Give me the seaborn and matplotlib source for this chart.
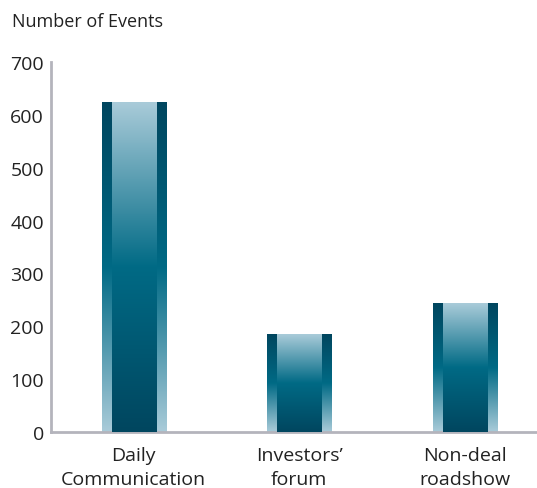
import numpy as np
import pandas as pd
import matplotlib
matplotlib.use("Agg")
import matplotlib.pyplot as plt
from matplotlib.colors import LinearSegmentedColormap
import seaborn as sns

categories = ["Daily\nCommunication", "Investors’\nforum", "Non-deal\nroadshow"]
events = [623, 184, 243]
y_ticks = [0, 100, 200, 300, 400, 500, 600, 700]

df = pd.DataFrame({"category": categories, "events": events})

sns.set_style("white")
plt.rcParams["font.family"] = ["Open Sans", "DejaVu Sans"]

fig = plt.figure(figsize=(5.37, 4.89), dpi=100)
ax = fig.add_axes([51/537, 56/489, (537-51)/537, (433-63)/489])

sns.barplot(data=df, x="category", y="events", ax=ax, width=0.387,
            color="#006d87", saturation=1, errorbar=None, zorder=1)

light, mid, dark = "#a9cbd9", "#006a85", "#00465f"
cmap_inner = LinearSegmentedColormap.from_list("inner", [dark, mid, light])   # bottom->top
cmap_outer = LinearSegmentedColormap.from_list("outer", [light, mid, dark])
grad = np.linspace(0, 1, 256).reshape(-1, 1)

inner_frac = 0.266 / 0.387
for p in ax.patches:
    x0, w, h = p.get_x(), p.get_width(), p.get_height()
    ax.imshow(grad, cmap=cmap_outer, origin="lower", aspect="auto",
              extent=(x0, x0 + w, 0, h), zorder=2, interpolation="bicubic")
    iw = w * inner_frac
    ix0 = x0 + (w - iw) / 2
    ax.imshow(grad, cmap=cmap_inner, origin="lower", aspect="auto",
              extent=(ix0, ix0 + iw, 0, h), zorder=3, interpolation="bicubic")
    p.set_visible(False)

ax.set_xlim(-0.50, 2.435)
ax.set_ylim(0, 700)
ax.set_yticks(y_ticks)
ax.set_yticklabels([str(t) for t in y_ticks])
ax.set_xlabel("")
ax.set_ylabel("")
for s in ["top", "right"]:
    ax.spines[s].set_visible(False)
for s in ["left", "bottom"]:
    ax.spines[s].set_color("#b4b4bc")
    ax.spines[s].set_linewidth(2)
ax.tick_params(axis="both", length=0, colors="#222222")
ax.tick_params(axis="y", pad=5, labelsize=14)
ax.tick_params(axis="x", pad=10, labelsize=14)
for lbl in ax.get_xticklabels():
    lbl.set_linespacing(1.45)

fig.text(12/537, 1 - 22/489, "Number of Events", fontsize=13, color="#222222",
         va="center", ha="left")

fig.savefig("out.png", dpi=100)
